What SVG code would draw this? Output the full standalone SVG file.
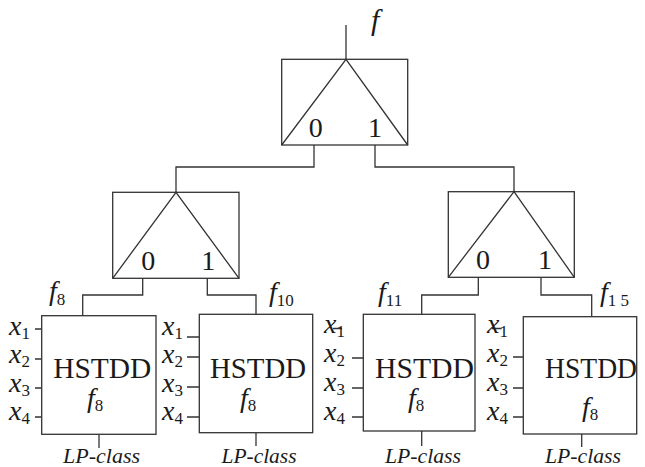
<svg xmlns="http://www.w3.org/2000/svg" width="645" height="467" viewBox="0 0 645 467" font-family="'Liberation Serif', 'Times New Roman', Times, serif">
<style>
.ln{fill:none;stroke:#333;stroke-width:1.3}
.bx{fill:#fff;stroke:#333;stroke-width:1.3}
text{font-family:'Liberation Serif','Times New Roman',Times,serif;fill:#1a1a1a}
.sub{font-style:normal;font-size:17px}
.d{font-size:28px}
.h{font-size:30px}
.v{font-size:28px;font-style:italic}
.lp{font-size:20px;font-style:italic}
</style>
<g id="connectors" class="ln">
<path d="M346,25 V59.3"/>
<path d="M314,145 V167 H176 V192.3"/>
<path d="M375,145 V167 H514 V191.7"/>
<path d="M142.7,278.3 V295 H82.7 V315.7"/>
<path d="M207.3,278.3 V295 H256 V314.3"/>
<path d="M478.3,277.3 V295 H421.7 V314.3"/>
<path d="M541,277.3 V295 H591.7 V316.7"/>
<path d="M99,434.3 V448"/>
<path d="M256,432.7 V446"/>
<path d="M421.7,431 V446"/>
<path d="M581.7,434 V447"/>
<path d="M35,329 H41.7 M35,359 H41.7 M35,388 H41.7 M35,417 H41.7"/>
<path d="M187,337 H199.3 M187,357 H199.3 M187,387 H199.3 M187,417 H199.3"/>
<path d="M333,328.5 H342 M352,358 H363.3 M352,388 H363.3 M352,417 H363.3"/>
<path d="M491.7,328.5 H501.7 M513,357 H523.3 M513,388 H523.3 M513,417 H523.3"/>
</g>
<g id="f-top"><text class="v" x="371" y="30" style="font-size:30px">f</text></g>
<g id="mux-top">
<rect class="bx" x="281.7" y="59.3" width="126" height="85.7"/>
<path class="ln" d="M281.7,145 L346,59.3 L407.7,145"/>
<text class="d" x="315.7" y="137" text-anchor="middle">0</text>
<text class="d" x="375" y="137" text-anchor="middle">1</text>
</g>
<g id="mux-left">
<rect class="bx" x="112.7" y="192.3" width="126.3" height="86"/>
<path class="ln" d="M112.7,278.3 L176,192.3 L239,278.3"/>
<text class="d" x="148.3" y="270" text-anchor="middle">0</text>
<text class="d" x="208.3" y="270" text-anchor="middle">1</text>
</g>
<g id="mux-right">
<rect class="bx" x="448.3" y="191.7" width="126" height="85.6"/>
<path class="ln" d="M448.3,277.3 L514,191.7 L574.3,277.3"/>
<text class="d" x="483" y="269" text-anchor="middle">0</text>
<text class="d" x="545" y="269" text-anchor="middle">1</text>
</g>
<g id="hstdd-1">
<rect class="bx" x="41.7" y="315.7" width="114.3" height="118.6"/>
<text class="h" x="53.3" y="378" textLength="98" lengthAdjust="spacingAndGlyphs">HSTDD</text>
<text class="v" x="87" y="407">f<tspan class="sub" dy="4">8</tspan></text>
<text class="v" x="49" y="300">f<tspan class="sub" dy="5">8</tspan></text>
<text class="v" x="9" y="335">x<tspan class="sub" dy="4">1</tspan></text>
<text class="v" x="9" y="363">x<tspan class="sub" dy="4">2</tspan></text>
<text class="v" x="9" y="392">x<tspan class="sub" dy="4">3</tspan></text>
<text class="v" x="9" y="420">x<tspan class="sub" dy="4">4</tspan></text>
<text class="lp" x="101.5" y="463" text-anchor="middle" textLength="77" lengthAdjust="spacingAndGlyphs">LP-class</text>
</g>
<g id="hstdd-2">
<rect class="bx" x="199.3" y="314.3" width="113.4" height="118.4"/>
<text class="h" x="210" y="378" textLength="96" lengthAdjust="spacingAndGlyphs">HSTDD</text>
<text class="v" x="240" y="407">f<tspan class="sub" dy="4">8</tspan></text>
<text class="v" x="269" y="301">f<tspan class="sub" dy="5">10</tspan></text>
<text class="v" x="162" y="335">x<tspan class="sub" dy="4">1</tspan></text>
<text class="v" x="162" y="363">x<tspan class="sub" dy="4">2</tspan></text>
<text class="v" x="162" y="392">x<tspan class="sub" dy="4">3</tspan></text>
<text class="v" x="162" y="420">x<tspan class="sub" dy="4">4</tspan></text>
<text class="lp" x="259" y="463" text-anchor="middle" textLength="75" lengthAdjust="spacingAndGlyphs">LP-class</text>
</g>
<g id="hstdd-3">
<rect class="bx" x="363.3" y="314.3" width="111.7" height="116.7"/>
<text class="h" x="375" y="378" textLength="99" lengthAdjust="spacingAndGlyphs">HSTDD</text>
<text class="v" x="408" y="407">f<tspan class="sub" dy="4">8</tspan></text>
<text class="v" x="378" y="301">f<tspan class="sub" dy="5">11</tspan></text>
<text class="v" x="324" y="333">x<tspan class="sub" dy="4">1</tspan></text>
<text class="v" x="324" y="362">x<tspan class="sub" dy="4">2</tspan></text>
<text class="v" x="324" y="391">x<tspan class="sub" dy="4">3</tspan></text>
<text class="v" x="324" y="420">x<tspan class="sub" dy="4">4</tspan></text>
<text class="lp" x="423" y="463" text-anchor="middle" textLength="76" lengthAdjust="spacingAndGlyphs">LP-class</text>
</g>
<g id="hstdd-4">
<rect class="bx" x="523.3" y="316.7" width="113.4" height="117.3"/>
<text class="h" x="545" y="378" textLength="92" lengthAdjust="spacingAndGlyphs">HSTDD</text>
<text class="v" x="582" y="416">f<tspan class="sub" dy="4">8</tspan></text>
<text class="v" x="600" y="301">f<tspan class="sub" dy="5">1 5</tspan></text>
<text class="v" x="487" y="333">x<tspan class="sub" dy="4">1</tspan></text>
<text class="v" x="487" y="362">x<tspan class="sub" dy="4">2</tspan></text>
<text class="v" x="487" y="391">x<tspan class="sub" dy="4">3</tspan></text>
<text class="v" x="487" y="420">x<tspan class="sub" dy="4">4</tspan></text>
<text class="lp" x="583" y="463" text-anchor="middle" textLength="76" lengthAdjust="spacingAndGlyphs">LP-class</text>
</g>
</svg>
